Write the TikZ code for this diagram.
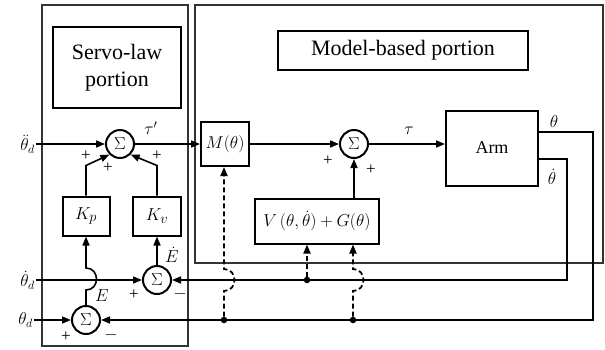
\documentclass[tikz,border=0pt]{standalone}
\usepackage{fontspec}
\setmainfont{Liberation Serif}
\usetikzlibrary{arrows.meta}

\begin{document}
\begin{tikzpicture}[x=1pt,y=-1pt,
  frame/.style={draw=black!80,line width=1.3pt},
  titlebox/.style={draw,line width=1.3pt,inner sep=0pt,font=\fontsize{22}{27}\selectfont,align=center},
  block/.style={draw,line width=2pt,inner sep=0pt,font=\fontsize{19}{22}\selectfont},
  sumnode/.style={circle,draw,line width=2pt,minimum size=28pt,inner sep=0pt,font=\fontsize{19}{22}\selectfont},
  sig/.style={line width=1.6pt,-{Triangle[length=9pt,width=7pt]}},
  fb/.style={line width=1.8pt,dash pattern=on 5pt off 3pt,-{Triangle[length=9pt,width=7pt]}},
  lbl/.style={inner sep=1pt,font=\fontsize{17}{20}\selectfont},
  sgn/.style={inner sep=0pt,font=\fontsize{17}{20}\selectfont},
  junction/.style={circle,fill,inner sep=0pt,minimum size=6.5pt}]
\useasboundingbox (0,0) rectangle (605,349);

% the two portions
\draw[frame] (42,5) rectangle (188,346);
\draw[frame] (195,5) rectangle (603,263);
\node[titlebox,minimum width=128pt,minimum height=81pt] (servo) at (117,67.5) {Servo-law\\portion};
\node[titlebox,minimum width=250pt,minimum height=39pt] (model) at (403,50.5) {Model-based portion};

% blocks and summing junctions
\node[sumnode] (sA) at (120,144) {$\Sigma$};
\node[block,minimum width=47pt,minimum height=39pt] (Kp) at (86,216) {$K_p$};
\node[block,minimum width=48pt,minimum height=39pt] (Kv) at (157,216) {$K_v$};
\node[sumnode] (sB) at (157,280) {$\Sigma$};
\node[sumnode] (sC) at (86,320) {$\Sigma$};
\node[block,minimum width=48pt,minimum height=44pt,font=\fontsize{18}{20}\selectfont] (M) at (225,144) {$M(\theta)$};
\node[sumnode] (sD) at (354,144) {$\Sigma$};
\node[block,minimum width=124pt,minimum height=45pt,font=\fontsize{17}{20}\selectfont] (V) at (317,221) {$V\,(\theta,\dot\theta)+G(\theta)$};
\node[block,minimum width=92pt,minimum height=75pt,font=\fontsize{18}{20}\selectfont] (arm) at (492,148) {Arm};

% reference inputs
\node[lbl,anchor=east] (in1) at (36,144) {$\ddot\theta_d$};
\node[lbl,anchor=east] (in2) at (36,280) {$\dot\theta_d$};
\node[lbl,anchor=east] (in3) at (34,320) {$\theta_d$};

% forward path
\draw[sig] (in1.east) -- (sA.west);
\draw[sig] (sA.east) -- (M.west);
\draw[sig] (M.east) -- (sD.west);
\draw[sig] (V.north -| sD) -- (sD.south);
\draw[sig] (sD.east) -- (sD.east -| arm.west);

% servo loop
\draw[sig] (in2.east) -- (sB.west);
\draw[sig] (in3.east) -- (sC.west);
\draw[sig] (sB.north) -- (Kv.south);
\draw[sig] (sC.north) -- ++(0,-15) .. controls +(14,0) and +(14,0) .. ++(0,-22) -- (Kp.south);
\draw[sig] (Kp.north) -- ++(0,-30) -- (sA.225);
\draw[sig] (Kv.north) -- ++(0,-30) -- (sA.-45);

% feedback from the arm
\coordinate (yT) at (0,132);
\coordinate (yD) at (0,159);
\coordinate (tR) at (593,320);
\coordinate (dR) at (567,280);
\draw[sig] (arm.east |- yT) -| (tR) -- (sC.east);
\draw[sig] (arm.east |- yD) -| (dR) -- (sB.east);

% junctions and model feedback (dashed)
\node[junction] (j1) at (224,320) {};
\node[junction] (j2) at (353,320) {};
\node[junction] (j3) at (307,280) {};
\draw[fb] (j1) -- ++(0,-29) .. controls +(14,0) and +(14,0) .. ++(0,-22) -- (j1 |- M.south);
\draw[fb] (j2) -- ++(0,-29) .. controls +(14,0) and +(14,0) .. ++(0,-22) -- (j2 |- V.south);
\draw[fb] (j3) -- (j3 |- V.south);

% signal labels
\node[lbl] (ltp) at (151,128) {$\tau'$};
\node[lbl] (lt) at (409,131) {$\tau$};
\node[lbl] (lth) at (554,121) {$\theta$};
\node[lbl] (lthd) at (552,177) {$\dot\theta$};
\node[lbl] (lEd) at (172,255) {$\dot E$};
\node[lbl] (lE) at (102,296) {$E$};

% signs at the summing junctions
\node[sgn] (p1) at (86,156) {+};
\node[sgn] (p2) at (108,168) {+};
\node[sgn] (p3) at (157,156) {+};
\node[sgn] (p4) at (134,295) {+};
\node[sgn] (m1) at (180,294) {$-$};
\node[sgn] (p5) at (66,337) {+};
\node[sgn] (m2) at (111,335) {$-$};
\node[sgn] (p6) at (328,161) {+};
\node[sgn] (p7) at (371,170) {+};
\end{tikzpicture}
\end{document}
